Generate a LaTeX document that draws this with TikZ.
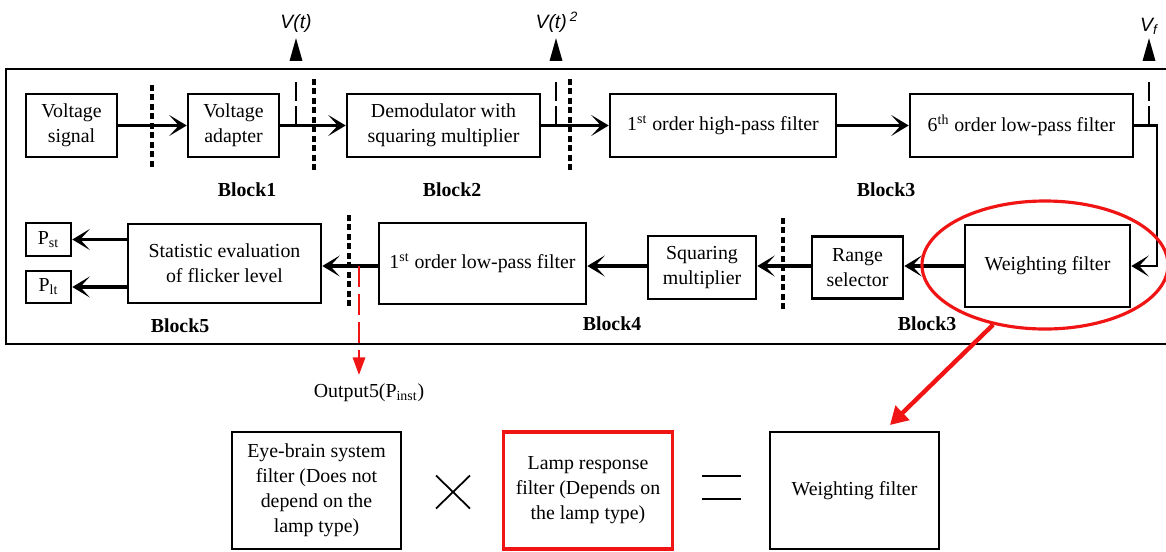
\documentclass[tikz,border=0pt]{standalone}
\usepackage{fontspec}
\setmainfont{Liberation Serif}
\setsansfont{Liberation Sans}
\usetikzlibrary{arrows.meta,positioning,shapes.geometric,calc}
\definecolor{markred}{RGB}{240,20,20}

\begin{document}
\begin{tikzpicture}[every node/.style={font=\fontsize{11.3}{14}\selectfont},
  blk/.style={draw,line width=1.5pt,align=center,inner sep=2pt},
  conn/.style={line width=2.2pt,-{Stealth[length=10pt,width=12pt,inset=5.5pt]}},
  sep/.style={line width=2pt,dash pattern=on 3.4pt off 2pt},
  tap/.style={line width=1.2pt,dash pattern=on 0.4cm off 0.1cm on 0.38cm off 0.42cm,-{Triangle[length=13pt,width=7pt]}},
  lbl/.style={font=\fontsize{11.3}{14}\selectfont\bfseries},
  sig/.style={font=\fontsize{11}{13}\selectfont\sffamily\itshape},
  lowbox/.style={blk,line width=1.3pt,minimum width=3.38cm,minimum height=2.34cm,font=\fontsize{11.3}{14.2}\selectfont}]
  \useasboundingbox (0,0) rectangle (23.32,-11.02);
  \draw[line width=1.4pt] (0.12,-1.38) rectangle (23.5,-6.88);
  % upper chain
  \node[blk,minimum width=1.82cm,minimum height=1.26cm] (vsig) at (1.43,-2.51) {Voltage\\signal};
  \node[blk,minimum width=1.82cm,minimum height=1.26cm] (vadp) at (4.67,-2.51) {Voltage\\adapter};
  \node[blk,minimum width=3.86cm,minimum height=1.26cm] (demod) at (8.87,-2.51) {Demodulator with\\squaring multiplier};
  \node[blk,minimum width=4.52cm,minimum height=1.26cm] (hpf) at (14.46,-2.51) {1\textsuperscript{st} order high-pass filter};
  \node[blk,minimum width=4.46cm,minimum height=1.26cm] (lpf6) at (20.43,-2.51) {6\textsuperscript{th} order low-pass filter};
  % lower chain
  \node[blk,minimum width=3.30cm,minimum height=1.64cm] (wf) at (20.95,-5.32) {Weighting filter};
  \node[blk,minimum width=1.82cm,minimum height=1.24cm] (rsel) at (17.15,-5.35) {Range\\selector};
  \node[blk,minimum width=2.16cm,minimum height=1.26cm] (sqm) at (14.04,-5.35) {Squaring\\multiplier};
  \node[blk,minimum width=4.14cm,minimum height=1.62cm] (lpf1) at (9.65,-5.27) {1\textsuperscript{st} order low-pass filter};
  \node[blk,minimum width=3.86cm,minimum height=1.58cm] (stat) at (4.49,-5.27) {Statistic evaluation\\of flicker level};
  \node[blk,minimum width=0.90cm,minimum height=0.66cm] (pst) at (0.97,-4.79) {P\textsubscript{st}};
  \node[blk,minimum width=0.90cm,minimum height=0.64cm] (plt) at (0.97,-5.74) {P\textsubscript{lt}};

  \foreach \n/\x/\y/\k in {la/4.94/-3.80/1,lb/9.04/-3.80/2,lc/17.72/-3.80/3,ld/18.54/-6.48/3,le/12.24/-6.48/4,lf/3.60/-6.52/5}
    \node[lbl] (\n) at (\x,\y) {Block\k};
  \foreach \x/\a/\b in {3.04/-1.70/-3.36,6.28/-1.58/-3.46,11.40/-1.58/-3.46,6.98/-4.30/-6.16,15.66/-4.36/-6.24}
    \draw[sep] (\x,\a) -- (\x,\b);

  \foreach \a/\b in {vsig/vadp,vadp/demod,demod/hpf,hpf/lpf6} \draw[conn] (\a) -- (\b);
  \coordinate (turn) at (23.14,-2.51);
  \draw[line width=1.2pt,-{Stealth[length=10pt,width=12pt,inset=5.5pt]}] (lpf6.east) -- (turn) |- (wf.east);
  \foreach \a/\b in {wf/rsel,rsel/sqm,sqm/lpf1,lpf1/stat} \draw[conn] (wf.west -| \a.west) -- (wf.west -| \b.east);
  \draw[conn] (stat.west |- pst) -- (pst.east);
  \draw[conn] (stat.west |- plt) -- (plt.east);

  % measuring points
  \coordinate (t1) at (5.92,-2.51); \coordinate (t1tip) at (5.92,-0.76);
  \coordinate (t2) at (11.12,-2.51); \coordinate (t2tip) at (11.12,-0.76);
  \coordinate (t3) at (22.98,-2.51); \coordinate (t3tip) at (22.98,-0.76);
  \foreach \p in {t1,t2,t3} \draw[tap] (\p) -- (\p tip);
  \node[sig] (vt) at (5.92,-0.46) {V(t)};
  \node[sig] (vt2) at (11.14,-0.44) {V(t)\,\textsuperscript{2}};
  \node[sig] (vf) at (22.98,-0.52) {V\textsubscript{f}};

  \coordinate (t4) at (7.18,-5.32); \coordinate (otip) at (7.18,-7.50);
  \draw[markred,line width=1.3pt,dash pattern=on 0.42cm off 0.14cm,-{Triangle[length=10pt,width=7pt]}] (t4) -- (otip);
  \node (out5) at (7.38,-7.86) {Output5(P\textsubscript{inst})};

  % weighting filter detail
  \node[draw=markred,line width=1.8pt,ellipse,minimum width=4.92cm,minimum height=2.56cm] (ring) at (20.90,-5.30) {};
  \coordinate (rtip) at (17.80,-8.50);
  \draw[markred,line width=2.5pt,-{Triangle[length=10pt,width=11pt]}] (ring.-131) -- (rtip);

  \node[lowbox] (eye) at (6.33,-9.81) {Eye-brain system\\filter (Does not\\depend on the\\lamp type)};
  \node[lowbox,draw=markred,line width=1.8pt] (lamp) at (11.76,-9.81) {Lamp response\\filter (Depends on\\the lamp type)};
  \node[lowbox] (wfb) at (17.09,-9.81) {Weighting filter};
  \draw[line width=1pt] (8.72,-9.51) -- (9.40,-10.17);
  \draw[line width=1pt] (9.40,-9.51) -- (8.72,-10.17);
  \draw[line width=1.5pt] (14.04,-9.52) -- (14.82,-9.52);
  \draw[line width=1.5pt] (14.04,-9.98) -- (14.82,-9.98);
\end{tikzpicture}
\end{document}
